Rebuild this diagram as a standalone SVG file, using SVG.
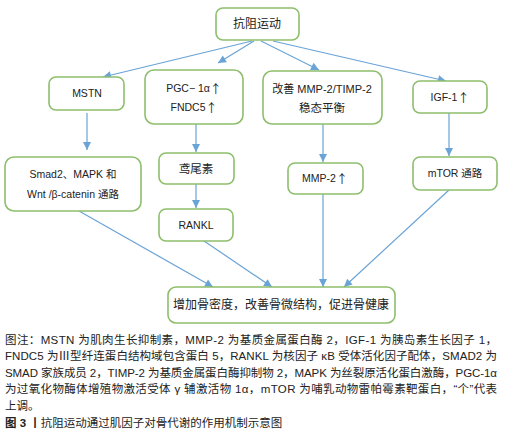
<svg xmlns="http://www.w3.org/2000/svg" width="512" height="442" viewBox="0 0 512 442">
<style>
.box{fill:#fff;stroke:#8dbe6c;stroke-width:1.6}
.t{font-family:"Liberation Sans","Noto Sans CJK SC",sans-serif;font-size:10.5px;fill:#222;text-anchor:middle;dominant-baseline:central}
.up{font-family:"Noto Sans CJK SC",sans-serif;font-size:12px}
.c{font-family:"Liberation Sans","Noto Sans CJK SC",sans-serif;font-size:11.5px;fill:#222}
.ln{stroke:#6aa3d6;stroke-width:1.2;fill:none;marker-end:url(#ah)}
</style>
<defs>
<marker id="ah" markerUnits="userSpaceOnUse" markerWidth="10" markerHeight="10" refX="9" refY="5" orient="auto">
<path d="M1,1 L9,5 L1,9 Z" fill="#6aa3d6"/>
</marker>
</defs>
<rect width="512" height="442" fill="#fff"/>
<g id="connectors">
<line class="ln" x1="252" y1="41" x2="103" y2="77"/>
<line class="ln" x1="254" y1="41" x2="218" y2="63"/>
<line class="ln" x1="261" y1="41" x2="319" y2="70"/>
<line class="ln" x1="273" y1="41" x2="446" y2="81"/>
<line class="ln" x1="87" y1="113" x2="87" y2="150"/>
<line class="ln" x1="196" y1="124" x2="196" y2="152"/>
<line class="ln" x1="196" y1="184" x2="196" y2="208"/>
<line class="ln" x1="323" y1="124" x2="323" y2="162"/>
<line class="ln" x1="449" y1="113" x2="449" y2="156"/>
<line class="ln" x1="79" y1="211" x2="213" y2="287"/>
<line class="ln" x1="204" y1="241" x2="272" y2="287"/>
<line class="ln" x1="323" y1="194" x2="323" y2="287"/>
<line class="ln" x1="449" y1="190" x2="344" y2="287"/>
</g>
<g id="n-top"><rect class="box" x="216" y="8" width="83" height="32" rx="7"/><text class="t" x="257" y="24" style="font-size:12px">抗阻运动</text></g>
<g id="n-mstn"><rect class="box" x="49" y="77" width="75" height="33" rx="7"/><text class="t" x="87" y="93">MSTN</text></g>
<g id="n-pgc"><rect class="box" x="145" y="70" width="98" height="54" rx="9"/><text class="t" x="194" y="88">PGC− 1α<tspan class="up">↑</tspan></text><text class="t" x="194" y="107">FNDC5<tspan class="up">↑</tspan></text></g>
<g id="n-mmp"><rect class="box" x="263" y="71" width="119" height="53" rx="9"/><text class="t" x="322" y="89" style="font-size:11px">改善 MMP-2/TIMP-2</text><text class="t" x="322" y="108" style="font-size:11.5px">稳态平衡</text></g>
<g id="n-igf"><rect class="box" x="413" y="81" width="74" height="32" rx="7"/><text class="t" x="450" y="97">IGF-1<tspan class="up">↑</tspan></text></g>
<g id="n-smad"><rect class="box" x="5" y="157" width="136" height="54" rx="9"/><text class="t" x="73" y="174">Smad2、MAPK 和</text><text class="t" x="73" y="194">Wnt /β-catenin 通路</text></g>
<g id="n-irisin"><rect class="box" x="159" y="153" width="75" height="31" rx="7"/><text class="t" x="196" y="169" style="font-size:11.5px">鸢尾素</text></g>
<g id="n-rankl"><rect class="box" x="159" y="209" width="74" height="32" rx="7"/><text class="t" x="196" y="225">RANKL</text></g>
<g id="n-mmp2"><rect class="box" x="288" y="163" width="75" height="31" rx="7"/><text class="t" x="325" y="178">MMP-2<tspan class="up">↑</tspan></text></g>
<g id="n-mtor"><rect class="box" x="413" y="157" width="84" height="33" rx="7"/><text class="t" x="455" y="173">mTOR 通路</text></g>
<g id="n-bone"><rect class="box" x="168" y="287" width="227" height="36" rx="8"/><text class="t" x="281" y="305" style="font-size:12px">增加骨密度，改善骨微结构，促进骨健康</text></g>
<g id="caption">
<text class="c" x="5" y="344" textLength="492" lengthAdjust="spacing">图注：MSTN 为肌肉生长抑制素，MMP-2 为基质金属蛋白酶 2，IGF-1 为胰岛素生长因子 1，</text>
<text class="c" x="5" y="360" textLength="492" lengthAdjust="spacing">FNDC5 为Ⅲ型纤连蛋白结构域包含蛋白 5，RANKL 为核因子 κB 受体活化因子配体，SMAD2 为</text>
<text class="c" x="5" y="377" textLength="492" lengthAdjust="spacing">SMAD 家族成员 2，TIMP-2 为基质金属蛋白酶抑制物 2，MAPK 为丝裂原活化蛋白激酶，PGC-1α</text>
<text class="c" x="5" y="393" textLength="492" lengthAdjust="spacing">为过氧化物酶体增殖物激活受体 γ 辅激活物 1α，mTOR 为哺乳动物雷帕霉素靶蛋白，“个”代表</text>
<text class="c" x="5" y="410">上调。</text>
<text class="c" x="5" y="427" style="font-weight:bold">图 3 丨<tspan style="font-weight:normal">抗阻运动通过肌因子对骨代谢的作用机制示意图</tspan></text>
</g>
</svg>
